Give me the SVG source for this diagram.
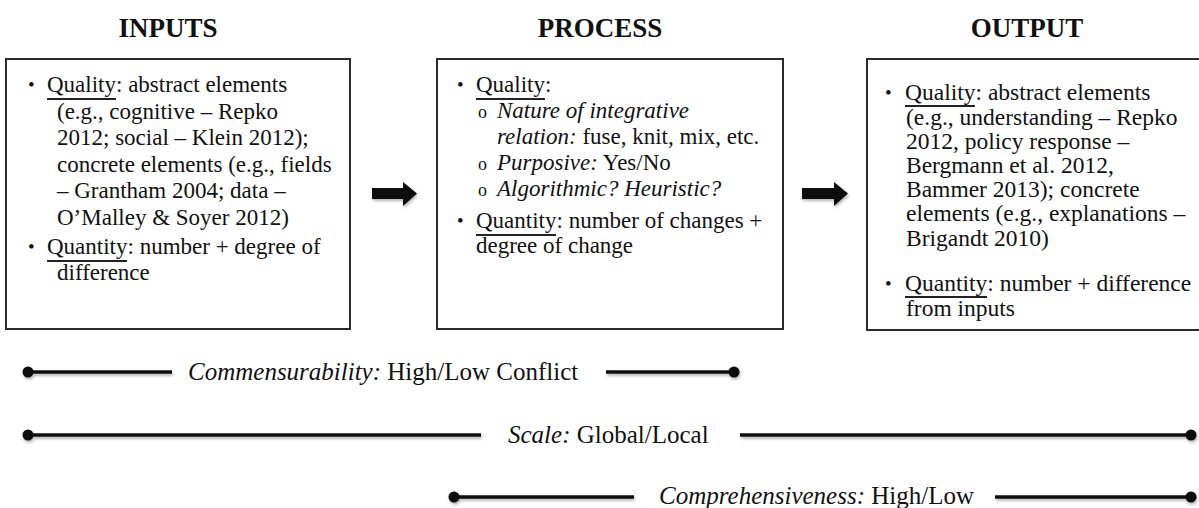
<svg xmlns="http://www.w3.org/2000/svg" width="1199" height="508" viewBox="0 0 1199 508">
  <style>
    text { font-family: "Liberation Serif", "Times New Roman", serif; fill: #111; }
    .title { font-size: 27px; font-weight: bold; text-anchor: middle; }
    .body { font-size: 23px; }
    .out { font-size: 23.5px; }
    .bul { font-size: 19px; }
    .sub { font-size: 18px; }
    .lbl { font-size: 25px; }
    .it { font-style: italic; }
    .box { fill: #fff; stroke: #2a2a2a; stroke-width: 2; }
    .ul { stroke: #222; stroke-width: 2; }
    .bar { stroke: #111; stroke-width: 3.5; stroke-linecap: butt; }
    .dot { fill: #111; }
    .arrow { fill: #111; }
  </style>
  <defs>
    <filter id="soft" x="-20%" y="-50%" width="140%" height="220%">
      <feDropShadow dx="1" dy="2" stdDeviation="1.5" flood-color="#000" flood-opacity="0.3"/>
    </filter>
  </defs>

  <rect width="1199" height="508" fill="#fff"/>

  <!-- column headings -->
  <text class="title" x="168" y="37">INPUTS</text>
  <text class="title" x="600" y="37">PROCESS</text>
  <text class="title" x="1027" y="37">OUTPUT</text>

  <!-- inputs -->
  <g id="inputs">
    <rect class="box" x="6" y="59" width="344" height="270"/>
    <text class="bul" x="28" y="91">•</text>
    <text class="body" x="47" y="92">Quality: abstract elements</text>
    <line class="ul" x1="47" y1="99" x2="116" y2="99"/>
    <text class="body" x="57" y="119">(e.g., cognitive – Repko</text>
    <text class="body" x="57" y="145">2012; social – Klein 2012);</text>
    <text class="body" x="57" y="172">concrete elements (e.g., fields</text>
    <text class="body" x="57" y="198">– Grantham 2004; data –</text>
    <text class="body" x="57" y="225">O’Malley &amp; Soyer 2012)</text>
    <text class="bul" x="28" y="253">•</text>
    <text class="body" x="47" y="254">Quantity: number + degree of</text>
    <line class="ul" x1="47" y1="261" x2="127" y2="261"/>
    <text class="body" x="57" y="280">difference</text>
  </g>

  <!-- process -->
  <g id="process">
    <rect class="box" x="437" y="59" width="346" height="270"/>
    <text class="bul" x="457" y="91">•</text>
    <text class="body" x="476" y="92">Quality:</text>
    <line class="ul" x1="476" y1="99" x2="545" y2="99"/>
    <text class="sub" x="478" y="118">o</text>
    <text class="body it" x="497" y="118">Nature of integrative</text>
    <text class="body" x="497" y="144"><tspan class="it">relation:</tspan> fuse, knit, mix, etc.</text>
    <text class="sub" x="478" y="170">o</text>
    <text class="body" x="497" y="170"><tspan class="it">Purposive:</tspan> Yes/No</text>
    <text class="sub" x="478" y="196">o</text>
    <text class="body it" x="497" y="196">Algorithmic? Heuristic?</text>
    <text class="bul" x="457" y="227">•</text>
    <text class="body" x="476" y="228">Quantity: number of changes +</text>
    <line class="ul" x1="476" y1="235" x2="556" y2="235"/>
    <text class="body" x="476" y="253">degree of change</text>
  </g>

  <!-- output (box runs past the right edge) -->
  <g id="output">
    <rect class="box" x="867" y="59" width="345" height="271"/>
    <text class="bul" x="885" y="99">•</text>
    <text class="out" x="905" y="100">Quality: abstract elements</text>
    <line class="ul" x1="905" y1="106" x2="975" y2="106"/>
    <text class="out" x="906" y="125">(e.g., understanding – Repko</text>
    <text class="out" x="906" y="149">2012, policy response –</text>
    <text class="out" x="906" y="173">Bergmann et al. 2012,</text>
    <text class="out" x="906" y="197">Bammer 2013); concrete</text>
    <text class="out" x="906" y="221">elements (e.g., explanations –</text>
    <text class="out" x="906" y="246">Brigandt 2010)</text>
    <text class="bul" x="885" y="290">•</text>
    <text class="out" x="905" y="291">Quantity: number + difference</text>
    <line class="ul" x1="905" y1="297" x2="987" y2="297"/>
    <text class="out" x="906" y="316">from inputs</text>
  </g>

  <!-- flow arrows and dimension bars -->
  <g id="connectors" filter="url(#soft)">
    <path class="arrow" d="M372,188 H403 V182 L417,193.5 L403,206 V199 H372 Z"/>
    <path class="arrow" d="M802,188 H834 V182 L848,193.5 L834,206 V199 H802 Z"/>

    <line class="bar" x1="27" y1="372" x2="172" y2="372"/>
    <line class="bar" x1="606" y1="372" x2="734" y2="372"/>
    <circle class="dot" cx="28" cy="372" r="5.5"/>
    <circle class="dot" cx="734" cy="372" r="5.5"/>

    <line class="bar" x1="27" y1="435" x2="481" y2="435"/>
    <line class="bar" x1="740" y1="435" x2="1191" y2="435"/>
    <circle class="dot" cx="28" cy="435" r="5.5"/>
    <circle class="dot" cx="1191" cy="435" r="5.5"/>

    <line class="bar" x1="453" y1="497" x2="634" y2="497"/>
    <line class="bar" x1="995" y1="497" x2="1191" y2="497"/>
    <circle class="dot" cx="454" cy="497" r="5.5"/>
    <circle class="dot" cx="1191" cy="497" r="5.5"/>
  </g>

  <text class="lbl" x="188" y="380"><tspan class="it">Commensurability:</tspan> High/Low Conflict</text>
  <text class="lbl" x="508" y="443"><tspan class="it">Scale:</tspan> Global/Local</text>
  <text class="lbl" x="659" y="504"><tspan class="it">Comprehensiveness:</tspan> High/Low</text>
</svg>
